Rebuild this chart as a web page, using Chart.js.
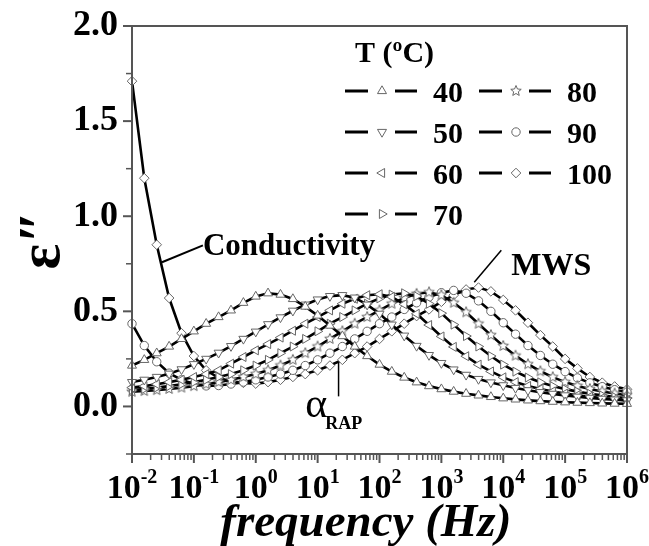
<!DOCTYPE html>
<html>
<head>
<meta charset="utf-8">
<script src="https://cdn.jsdelivr.net/npm/chart.js@4.4.1/dist/chart.umd.min.js"></script>
<style>
  html, body { margin: 0; padding: 0; background: #fff; }
  #chart { display: block; }
</style>
</head>
<body>
<canvas id="chart" width="649" height="546"></canvas>
<script>
// ─── Data ───

// measurement frequencies, Hz (5 points per decade)
const freq = [
    0.01, 0.0158, 0.0251, 0.0398, 0.0631,
    0.1, 0.158, 0.251, 0.398, 0.631,
    1, 1.58, 2.51, 3.98, 6.31,
    10, 15.8, 25.1, 39.8, 63.1,
    100, 158, 251, 398, 631,
    1000, 1580, 2510, 3980, 6310,
    1e4, 1.58e4, 2.51e4, 3.98e4, 6.31e4,
    1e5, 1.58e5, 2.51e5, 3.98e5, 6.31e5,
    1e6
];

const tempLabels = ['40', '50', '60', '70', '80', '90', '100'];

// ε'' per temperature
const eps40 = [0.215, 0.245, 0.28, 0.315, 0.355, 0.395, 0.435, 0.47, 0.505, 0.545,
    0.578, 0.595, 0.588, 0.565, 0.525, 0.478, 0.425, 0.37, 0.315, 0.265,
    0.22, 0.183, 0.152, 0.127, 0.107, 0.091, 0.078, 0.067, 0.058, 0.05,
    0.043, 0.037, 0.032, 0.028, 0.025, 0.022, 0.02, 0.018, 0.016, 0.015,
    0.014];
const eps50 = [0.128, 0.14, 0.155, 0.172, 0.195, 0.222, 0.25, 0.282, 0.317, 0.355,
    0.393, 0.432, 0.468, 0.503, 0.535, 0.562, 0.58, 0.585, 0.572, 0.535,
    0.487, 0.43, 0.372, 0.318, 0.27, 0.228, 0.194, 0.166, 0.144, 0.126,
    0.111, 0.097, 0.085, 0.075, 0.066, 0.058, 0.051, 0.045, 0.04, 0.036,
    0.032];
const eps60 = [0.099, 0.107, 0.117, 0.128, 0.14, 0.155, 0.17, 0.19, 0.225, 0.26,
    0.295, 0.328, 0.362, 0.398, 0.435, 0.47, 0.505, 0.54, 0.566, 0.585,
    0.59, 0.576, 0.537, 0.487, 0.428, 0.368, 0.313, 0.264, 0.22, 0.184,
    0.153, 0.128, 0.108, 0.092, 0.079, 0.068, 0.059, 0.051, 0.044, 0.038,
    0.033];
const eps70 = [0.086, 0.092, 0.099, 0.107, 0.117, 0.128, 0.14, 0.155, 0.17, 0.19,
    0.215, 0.245, 0.28, 0.315, 0.355, 0.395, 0.435, 0.47, 0.505, 0.54,
    0.568, 0.588, 0.595, 0.58, 0.54, 0.49, 0.43, 0.37, 0.315, 0.265,
    0.22, 0.183, 0.152, 0.127, 0.107, 0.091, 0.078, 0.067, 0.058, 0.05,
    0.044];
const eps80 = [0.077, 0.081, 0.086, 0.092, 0.099, 0.107, 0.117, 0.128, 0.14, 0.155,
    0.17, 0.19, 0.215, 0.245, 0.28, 0.315, 0.355, 0.395, 0.435, 0.47,
    0.505, 0.54, 0.57, 0.592, 0.6, 0.585, 0.545, 0.495, 0.435, 0.375,
    0.318, 0.267, 0.222, 0.185, 0.154, 0.128, 0.108, 0.092, 0.079, 0.068,
    0.059];
const eps90 = [0.435, 0.32, 0.235, 0.175, 0.14, 0.118, 0.108, 0.11, 0.118, 0.128,
    0.14, 0.155, 0.17, 0.19, 0.215, 0.245, 0.28, 0.315, 0.355, 0.395,
    0.435, 0.47, 0.51, 0.545, 0.575, 0.598, 0.61, 0.595, 0.555, 0.5,
    0.44, 0.38, 0.32, 0.268, 0.222, 0.183, 0.15, 0.124, 0.104, 0.088,
    0.075];
const eps100 = [1.71, 1.2, 0.85, 0.57, 0.385, 0.265, 0.19, 0.15, 0.132, 0.124,
    0.12, 0.128, 0.14, 0.155, 0.17, 0.19, 0.215, 0.245, 0.28, 0.315,
    0.355, 0.395, 0.435, 0.475, 0.51, 0.55, 0.585, 0.615, 0.625, 0.605,
    0.56, 0.505, 0.44, 0.375, 0.315, 0.25, 0.2, 0.155, 0.125, 0.105,
    0.09];

const series = [eps40, eps50, eps60, eps70, eps80, eps90, eps100];

// x axis decades and their exponent labels
const decadeTicks = [0.01, 0.1, 1, 10, 100, 1e3, 1e4, 1e5, 1e6];
const decadeExps = ['-2', '-1', '0', '1', '2', '3', '4', '5', '6'];

// annotations, in data coordinates
const noteConductivity = { x: 0.14, y: 0.795, from: [0.14, 0.847], to: [0.0305, 0.758] };
const noteMWS = { x: 1.35e4, y: 0.69, from: [9.3e3, 0.821], to: [3.4e3, 0.653] };
const noteAlpha = { x: 6.3, y: -0.053, from: [21.8, 0.053], to: [21.8, 0.232] };


// ─── Styles ───

const SERIF = '"Liberation Serif", "Times New Roman", serif';
const AXIS = '#555';
const MARK_EDGE = '#666';

function makeStar(r) {
    const size = Math.ceil(r * 2 + 3);
    const c = document.createElement('canvas');
    c.width = c.height = size;
    const g = c.getContext('2d');
    g.beginPath();
    for (let i = 0; i < 10; i++) {
        const rr = i % 2 === 0 ? r : r * 0.45;
        const a = -Math.PI / 2 + i * Math.PI / 5;
        g.lineTo(size / 2 + rr * Math.cos(a), size / 2 + rr * Math.sin(a));
    }
    g.closePath();
    g.fillStyle = '#fff';
    g.fill();
    g.strokeStyle = MARK_EDGE;
    g.lineWidth = 1;
    g.stroke();
    return c;
}

const markers = [
    { style: 'triangle', rotation: 0, radius: 5.2 },
    { style: 'triangle', rotation: 180, radius: 5.2 },
    { style: 'triangle', rotation: 270, radius: 5.2 },
    { style: 'triangle', rotation: 90, radius: 5.2 },
    { style: makeStar(5.5), rotation: 0, radius: 5.5 },
    { style: 'circle', rotation: 0, radius: 4.2 },
    { style: 'rectRot', rotation: 0, radius: 4.8 }
];


// ─── Decorations: frame, ticks, exponent labels, legend, notes ───

function drawFrameAndTicks(ctx, chart) {
    const { x, y } = chart.scales;
    const a = chart.chartArea;
    ctx.save();
    ctx.strokeStyle = AXIS;
    ctx.lineWidth = 2;
    ctx.strokeRect(a.left, a.top, a.right - a.left, a.bottom - a.top);

    x.ticks.forEach(t => {
        const px = x.getPixelForValue(t.value);
        ctx.lineWidth = t.major ? 2 : 1.5;
        ctx.beginPath();
        ctx.moveTo(px, a.bottom);
        ctx.lineTo(px, a.bottom + (t.major ? 9 : 6));
        ctx.stroke();
    });
    y.ticks.forEach(t => {
        const py = y.getPixelForValue(t.value);
        const major = Math.round(t.value * 4) % 2 === 0;
        ctx.lineWidth = major ? 2 : 1.5;
        ctx.beginPath();
        ctx.moveTo(a.left, py);
        ctx.lineTo(a.left - (major ? 9 : 6), py);
        ctx.stroke();
    });
    ctx.restore();
}

function drawXAxisText(ctx, chart) {
    const x = chart.scales.x;
    const base = `bold 34px ${SERIF}`;
    const sup = `bold 20px ${SERIF}`;
    const baseline = chart.chartArea.bottom + 44;
    ctx.save();
    ctx.fillStyle = '#000';
    ctx.textAlign = 'left';
    ctx.textBaseline = 'alphabetic';
    decadeTicks.forEach((v, i) => {
        const px = x.getPixelForValue(v);
        ctx.font = base;
        const wb = ctx.measureText('10').width;
        ctx.font = sup;
        const we = ctx.measureText(decadeExps[i]).width;
        const x0 = px - (wb + we) / 2;
        ctx.font = base;
        ctx.fillText('10', x0, baseline);
        ctx.font = sup;
        ctx.fillText(decadeExps[i], x0 + wb, baseline - 15);
    });

    // axis title, sitting a little left of the plot centre as in the figure
    ctx.font = `italic bold 47px ${SERIF}`;
    ctx.textAlign = 'center';
    ctx.fillText('frequency (Hz)', x.getPixelForValue(60), chart.chartArea.bottom + 82);
    ctx.restore();
}

function drawLegend(ctx) {
    const helpers = Chart.helpers;
    const cols = [345, 479];
    const rowY0 = 91, rowGap = 41;
    ctx.save();
    ctx.fillStyle = '#000';
    ctx.font = `bold 30px ${SERIF}`;
    ctx.textBaseline = 'alphabetic';
    ctx.fillText('T (ºC)', 355, 62);

    tempLabels.forEach((lab, i) => {
        const c = cols[i < 4 ? 0 : 1];
        const yy = rowY0 + (i < 4 ? i : i - 4) * rowGap;
        ctx.strokeStyle = '#000';
        ctx.lineWidth = 3;
        ctx.beginPath();
        ctx.moveTo(c, yy); ctx.lineTo(c + 23, yy);
        ctx.moveTo(c + 50, yy); ctx.lineTo(c + 72, yy);
        ctx.stroke();

        const m = markers[i];
        ctx.fillStyle = '#fff';
        ctx.strokeStyle = MARK_EDGE;
        ctx.lineWidth = 1;
        helpers.drawPoint(ctx, { pointStyle: m.style, rotation: m.rotation, radius: m.radius, borderWidth: 1 }, c + 37, yy);

        ctx.fillStyle = '#000';
        ctx.font = `bold 30px ${SERIF}`;
        ctx.fillText(lab, c + 88, yy + 11);
    });
    ctx.restore();
}

function drawNotes(ctx, chart) {
    const { x, y } = chart.scales;
    const px = v => x.getPixelForValue(v);
    const py = v => y.getPixelForValue(v);
    const line = n => {
        ctx.beginPath();
        ctx.moveTo(px(n.from[0]), py(n.from[1]));
        ctx.lineTo(px(n.to[0]), py(n.to[1]));
        ctx.stroke();
    };
    ctx.save();
    ctx.fillStyle = '#000';
    ctx.strokeStyle = '#000';
    ctx.textBaseline = 'alphabetic';

    ctx.font = `bold 31px ${SERIF}`;
    ctx.fillText('Conductivity', px(noteConductivity.x), py(noteConductivity.y));
    ctx.lineWidth = 2;
    line(noteConductivity);

    ctx.font = `bold 32px ${SERIF}`;
    ctx.fillText('MWS', px(noteMWS.x), py(noteMWS.y));
    ctx.lineWidth = 1.5;
    line(noteMWS);

    ctx.font = `42px ${SERIF}`;
    const ax = px(noteAlpha.x), ay = py(noteAlpha.y);
    ctx.fillText('α', ax, ay);
    const wa = ctx.measureText('α').width;
    ctx.font = `bold 18px ${SERIF}`;
    ctx.fillText('RAP', ax + wa - 2, ay + 12);
    ctx.lineWidth = 1.5;
    line(noteAlpha);
    ctx.restore();
}

const decorations = {
    id: 'decorations',
    afterDatasetsDraw(chart) {
        const ctx = chart.ctx;
        drawFrameAndTicks(ctx, chart);
        drawXAxisText(ctx, chart);
        drawLegend(ctx);
        drawNotes(ctx, chart);
    }
};


// ─── Chart ───

const datasets = series.map((vals, i) => ({
    label: tempLabels[i],
    data: freq.map((f, k) => ({ x: f, y: vals[k] })),
    borderColor: '#000',
    borderWidth: 2.6,
    tension: 0,
    pointStyle: markers[i].style,
    pointRotation: markers[i].rotation,
    pointRadius: markers[i].radius,
    pointBackgroundColor: '#fff',
    pointBorderColor: MARK_EDGE,
    pointBorderWidth: 1,
    clip: 8
}));

new Chart(document.getElementById('chart'), {
    type: 'line',
    data: { datasets },
    options: {
        responsive: false,
        animation: false,
        layout: { padding: { top: 26, right: 22, left: 0, bottom: 0 } },
        plugins: {
            legend: { display: false },
            tooltip: { enabled: false }
        },
        scales: {
            x: {
                type: 'logarithmic',
                min: 0.01,
                max: 1e6,
                grid: { display: false, drawTicks: false },
                border: { display: false },
                ticks: { display: false },
                afterBuildTicks: scale => {
                    const t = [];
                    decadeTicks.forEach((d, i) => {
                        t.push({ value: d, major: true });
                        if (i < decadeTicks.length - 1) {
                            for (let k = 2; k <= 9; k++) t.push({ value: d * k, major: false });
                        }
                    });
                    scale.ticks = t;
                },
                afterFit: scale => {
                    scale.height = 92;
                    scale.paddingLeft = scale.paddingRight = 0;
                }
            },
            y: {
                min: -0.25,
                max: 2.0,
                grid: { display: false, drawTicks: false },
                border: { display: false },
                ticks: {
                    stepSize: 0.25,
                    padding: 14,
                    color: '#000',
                    font: { family: SERIF, size: 36, weight: 'bold' },
                    callback: v => (Math.round(v * 4) % 2 === 0 ? v.toFixed(1) : '')
                },
                title: {
                    display: true,
                    text: 'ε\u2033',
                    color: '#000',
                    padding: { top: 7, bottom: 0 },
                    font: { family: SERIF, size: 60, weight: 'bold', lineHeight: 1.2 }
                },
                afterFit: scale => {
                    scale.width = 132;
                    scale.paddingTop = scale.paddingBottom = 0;
                }
            }
        }
    },
    plugins: [decorations]
});
</script>
</body>
</html>
